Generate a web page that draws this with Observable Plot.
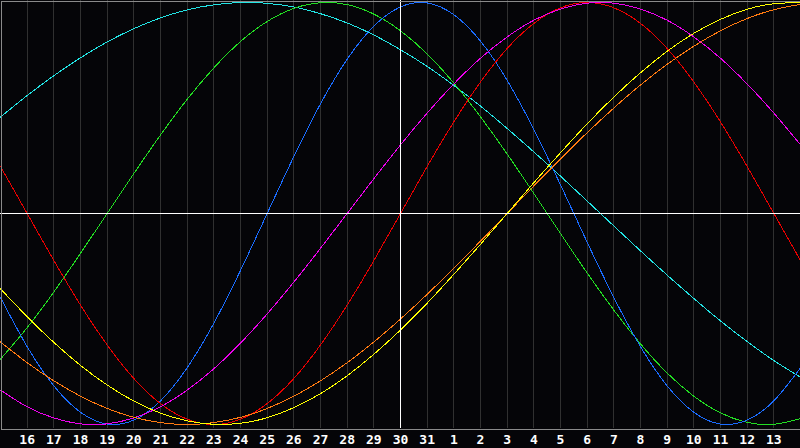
<!DOCTYPE html>
<html>
<head>
<meta charset="utf-8">
<script src="https://cdn.jsdelivr.net/npm/d3@7"></script>
<script src="https://cdn.jsdelivr.net/npm/@observablehq/plot@0.6"></script>
<style>
  html, body { margin: 0; padding: 0; background: #050508; }
  #chart svg { display: block; }
</style>
</head>
<body>
<div id="chart"></div>
<script>
// Day labels for day index 0..30 (15th of previous month .. 14th)
const dayLabels = ["15","16","17","18","19","20","21","22","23","24","25","26","27","28","29","30","31",
  "1","2","3","4","5","6","7","8","9","10","11","12","13","14"];
const tickDays = d3.range(1, 30);   // labelled days
const todayIndex = 15;             // "30"

// Curve values (-1..1) read per day from the picture
const physical = [-0.398,-0.631,-0.817,-0.942,-0.998,-0.979,-0.888,-0.731,-0.520,-0.270,0,0.270,0.520,0.731,0.888,0.979,0.998,0.942,0.817,0.631,0.398,0.136,-0.136,-0.398,-0.631,-0.817,-0.942,-0.998,-0.979,-0.888,-0.731];
const emotional = [0.223,0,-0.223,-0.434,-0.623,-0.782,-0.901,-0.975,-1,-0.975,-0.901,-0.782,-0.623,-0.434,-0.223,0,0.223,0.434,0.623,0.782,0.901,0.975,1,0.975,0.901,0.782,0.623,0.434,0.223,0,-0.223];
const intellectual = [-0.690,-0.541,-0.372,-0.189,0,0.189,0.372,0.541,0.690,0.815,0.910,0.972,0.999,0.990,0.945,0.866,0.756,0.618,0.458,0.282,0.095,-0.095,-0.282,-0.458,-0.618,-0.756,-0.866,-0.945,-0.990,-0.999,-0.972];
const intuitive = [-0.837,-0.916,-0.969,-0.997,-0.997,-0.969,-0.916,-0.837,-0.736,-0.614,-0.476,-0.325,-0.165,0,0.165,0.325,0.476,0.614,0.736,0.837,0.916,0.969,0.997,0.997,0.969,0.916,0.837,0.736,0.614,0.476,0.325];
const aesthetic = [-0.357,-0.489,-0.611,-0.720,-0.813,-0.889,-0.946,-0.983,-0.999,-0.994,-0.968,-0.920,-0.854,-0.769,-0.667,-0.552,-0.425,-0.288,-0.146,0,0.146,0.288,0.425,0.552,0.667,0.769,0.854,0.920,0.968,0.994,0.999];
const awareness = [-0.609,-0.707,-0.793,-0.866,-0.924,-0.966,-0.991,-1,-0.991,-0.966,-0.924,-0.866,-0.793,-0.707,-0.609,-0.5,-0.383,-0.259,-0.131,0,0.131,0.259,0.383,0.5,0.609,0.707,0.793,0.866,0.924,0.966,0.991];
const spiritual = [0.457,0.559,0.653,0.738,0.813,0.876,0.927,0.965,0.989,1.000,0.996,0.979,0.947,0.903,0.846,0.776,0.697,0.607,0.509,0.403,0.292,0.177,0.059,-0.059,-0.177,-0.292,-0.403,-0.509,-0.607,-0.697,-0.776];

const seriesList = [
  {name: "spiritual", values: spiritual, color: "#22e4e4"},
  {name: "intellectual", values: intellectual, color: "#22dd22"},
  {name: "physical", values: physical, color: "#1a6cff"},
  {name: "emotional", values: emotional, color: "#e80000"},
  {name: "intuitive", values: intuitive, color: "#ee00ee"},
  {name: "awareness", values: awareness, color: "#ff7a10"},
  {name: "aesthetic", values: aesthetic, color: "#ffff00"}
];

const lineMarks = seriesList.map(s =>
  Plot.line(s.values.map((v, i) => ({day: i, value: v})), {
    x: "day", y: "value", stroke: s.color, strokeWidth: 1, curve: "natural", shapeRendering: "crispEdges"
  })
);

const chart = Plot.plot({
  width: 800,
  height: 448,
  marginLeft: 0,
  marginRight: 0,
  marginTop: 2,
  marginBottom: 24,
  style: {background: "#050508", color: "white", fontFamily: "'DejaVu Sans Mono', monospace", fontSize: "13px", fontWeight: "bold"},
  x: {domain: [0, 30], axis: null, label: null},
  y: {domain: [-1, 1], axis: null, label: null},
  marks: [
    Plot.ruleX(tickDays.filter(d => d !== todayIndex), {stroke: "#303030", insetTop: -2, insetBottom: -4, shapeRendering: "crispEdges"}),
    ...lineMarks,
    Plot.ruleY([0], {stroke: "#ffffff", shapeRendering: "crispEdges"}),
    Plot.ruleX([todayIndex], {stroke: "#ffffff", insetTop: -2, insetBottom: -4, shapeRendering: "crispEdges"}),
    Plot.frame({stroke: "#8a8a8a", insetTop: -1.5, insetBottom: -4.5, insetLeft: 0.5, insetRight: 0.5, shapeRendering: "crispEdges"}),
    Plot.axisX(tickDays, {tickSize: 0, tickPadding: 10, label: null, tickFormat: d => dayLabels[d], fill: "white", fontWeight: "bold", fontSize: 13})
  ]
});
document.getElementById("chart").appendChild(chart);
</script>
</body>
</html>
